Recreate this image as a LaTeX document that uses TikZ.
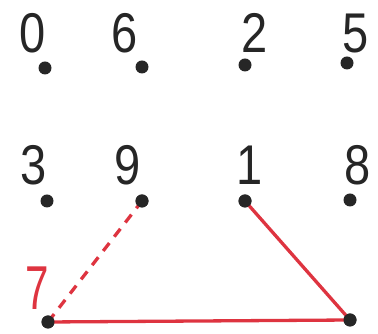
\documentclass[tikz,border=0pt]{standalone}
\usepackage{fontspec}
\setmainfont{Liberation Sans}
\definecolor{ink}{RGB}{38,38,38}
\definecolor{redl}{RGB}{222,52,64}
\begin{document}
\begin{tikzpicture}[x=1pt,y=1pt,
  digit/.style={anchor=base,inner sep=0pt,text=ink,font=\fontsize{56}{56}\selectfont},
  pt/.style={circle,fill=ink,inner sep=0pt,minimum size=13pt},
  redline/.style={draw=redl,line width=3.3pt},
  reddash/.style={draw=redl,line width=3.3pt,dash pattern=on 10pt off 8pt}]
\useasboundingbox (0,0) rectangle (378,334);
% top row
\node[digit] (d0) at (32.5,281) {\scalebox{0.84}[1]{0}};
\node[digit] (d6) at (125,281) {\scalebox{0.84}[1]{6}};
\node[digit] (d2) at (255,281) {\scalebox{0.84}[1]{2}};
\node[digit] (d5) at (356,281) {\scalebox{0.84}[1]{5}};
\node[pt] (p0) at (45,266) {};
\node[pt] (p6) at (142,267) {};
\node[pt] (p2) at (245,269) {};
\node[pt] (p5) at (347,271) {};
% second row
\node[digit] (d3) at (33.5,149) {\scalebox{0.84}[1]{3}};
\node[digit] (d9) at (128,149) {\scalebox{0.84}[1]{9}};
\node[digit] (d1) at (250,149) {\scalebox{0.84}[1]{1}};
\node[digit] (d8) at (358,149) {\scalebox{0.84}[1]{8}};
\node[pt] (p3) at (47,133) {};
\node[pt] (p9) at (142,133) {};
\node[pt] (p1) at (245,133) {};
\node[pt] (p8) at (350,134) {};
% bottom
\node[digit,text=redl,font=\fontsize{62}{62}\selectfont] (d7) at (37,24) {\scalebox{0.68}[1]{7}};
\node[pt] (p7) at (48,12) {};
\node[pt] (pr) at (350,14) {};
% lines
\draw[redline] (p7.center) -- (pr.center) -- (p1.center);
\draw[reddash] (p7.center) -- (p9.center);
% redraw dots on top
\foreach \n in {p7,pr,p1,p9} \fill[ink] (\n) circle (6.5pt);
\end{tikzpicture}
\end{document}
